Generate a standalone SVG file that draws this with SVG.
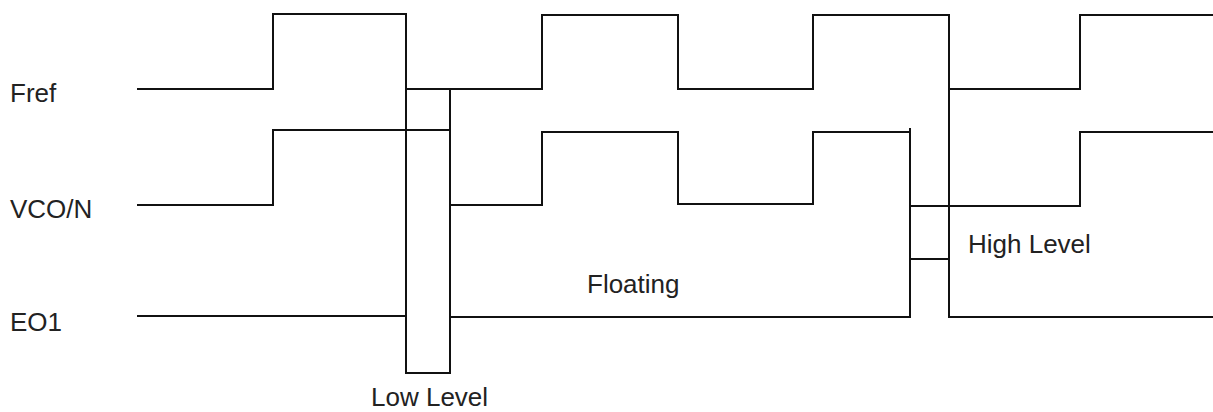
<svg xmlns="http://www.w3.org/2000/svg" width="1213" height="412" viewBox="0 0 1213 412">
  <style>
    .wave { fill: none; stroke: #111; stroke-width: 2; stroke-linejoin: miter; stroke-linecap: butt; }
    .lbl { font-family: "Liberation Sans", Arial, sans-serif; font-size: 26px; fill: #222; }
  </style>
  <rect width="1213" height="412" fill="#fff"/>

  <!-- signal names -->
  <g id="fref-label"><text class="lbl" x="10" y="102">Fref</text></g>
  <g id="vco-label"><text class="lbl" x="10" y="218">VCO/N</text></g>
  <g id="eo1-label"><text class="lbl" x="10" y="331">EO1</text></g>

  <g id="connectors">
    <!-- reference clock -->
    <path id="fref-wave" class="wave" d="M137,89 H273 V14 H406 V89 H542 V15 H678 V89 H813 V15 H949 V89 H1080 V15 H1213"/>
    <!-- divided VCO -->
    <path id="vco-wave" class="wave" d="M137,205 H273 V130 H450 V205 H542 V132 H678 V204 H813 V132 H910 V206 H1080 V132 H1213"/>
    <!-- phase detector output -->
    <path id="eo1-wave" class="wave" d="M137,316 H406 V373 H450 V317 H910 V259 H949 V317 H1213"/>
    <!-- edge markers -->
    <path class="wave" d="M406,89 V373 M450,89 V373 M910,128 V317 M949,89 V317"/>
  </g>

  <!-- state annotations -->
  <g id="low-level"><text class="lbl" x="371" y="406">Low Level</text></g>
  <g id="floating"><text class="lbl" x="587" y="293">Floating</text></g>
  <g id="high-level"><text class="lbl" x="968" y="253">High Level</text></g>
</svg>
